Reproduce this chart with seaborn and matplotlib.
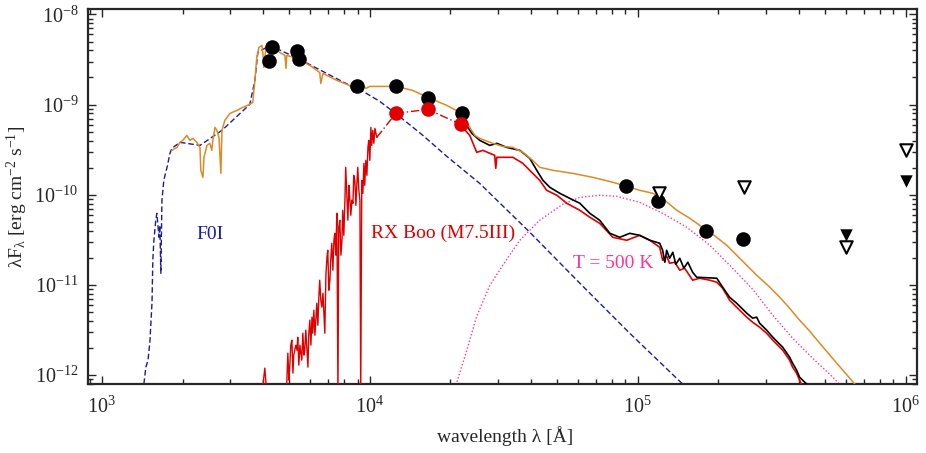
import numpy as np
import pandas as pd
import matplotlib
matplotlib.use("Agg")
import matplotlib.pyplot as plt
from matplotlib.ticker import LogLocator, NullFormatter, FixedLocator
import seaborn as sns

# values as log10(wavelength / A) and log10(lambda F_lambda / erg cm^-2 s^-1)

# F0I model (blue dashed)
f0i_logwl = [3.153, 3.164, 3.172, 3.179, 3.187, 3.190, 3.194, 3.201, 3.205, 3.213, 3.216, 3.220,
             3.224, 3.231, 3.243, 3.254, 3.261, 3.291, 3.366, 3.448, 3.552, 3.571, 3.582, 3.627,
             3.739, 3.925, 3.951, 3.981, 4.037, 4.101, 4.198, 4.287, 4.410, 4.597, 4.784, 4.970,
             5.168, 5.213]
f0i_logflux = [-12.188, -11.911, -11.834, -11.634, -11.191, -10.726, -10.504, -10.282, -10.205,
               -10.471, -10.338, -10.870, -10.061, -9.839, -9.695, -9.540, -9.485, -9.418, -9.452,
               -9.285, -8.997, -8.731, -8.421, -8.343, -8.499, -8.787, -8.820, -8.864, -8.964,
               -9.108, -9.341, -9.573, -9.873, -10.415, -10.981, -11.535, -12.100, -12.221]

# combined model (orange)
total_logwl = [3.261, 3.280, 3.291, 3.302, 3.317, 3.328, 3.340, 3.354, 3.366, 3.369, 3.377, 3.381,
               3.392, 3.403, 3.410, 3.414, 3.422, 3.429, 3.437, 3.444, 3.448, 3.459, 3.478, 3.504,
               3.526, 3.552, 3.563, 3.571, 3.578, 3.586, 3.597, 3.601, 3.604, 3.612, 3.627, 3.638,
               3.653, 3.664, 3.683, 3.687, 3.690, 3.728, 3.776, 3.813, 3.817, 3.825, 3.877, 3.925,
               3.940, 3.951, 3.963, 3.974, 3.985, 4.000, 4.037, 4.097, 4.160, 4.216, 4.287, 4.343,
               4.373, 4.392, 4.410, 4.429, 4.459, 4.496, 4.534, 4.571, 4.608, 4.634, 4.683, 4.757,
               4.832, 4.907, 4.959, 5.007, 5.056, 5.101, 5.146, 5.194, 5.231, 5.280, 5.332, 5.388,
               5.444, 5.493, 5.530, 5.567, 5.604, 5.642, 5.679, 5.746, 5.817]
total_logflux = [-9.507, -9.474, -9.418, -9.396, -9.341, -9.396, -9.374, -9.418, -9.474, -9.728,
                 -9.806, -9.584, -9.452, -9.429, -9.507, -9.396, -9.252, -9.285, -9.363, -9.762,
                 -9.285, -9.174, -9.097, -9.064, -9.030, -8.997, -8.975, -8.731, -8.476, -8.366,
                 -8.343, -8.432, -8.587, -8.377, -8.343, -8.366, -8.399, -8.421, -8.454, -8.598,
                 -8.454, -8.488, -8.565, -8.643, -8.765, -8.654, -8.731, -8.787, -8.864, -8.776,
                 -8.842, -8.787, -8.820, -8.798, -8.798, -8.798, -8.842, -8.920, -9.008, -9.097,
                 -9.252, -9.341, -9.374, -9.396, -9.429, -9.463, -9.474, -9.529, -9.618, -9.695,
                 -9.728, -9.762, -9.806, -9.861, -9.906, -9.950, -9.983, -10.061, -10.172, -10.260,
                 -10.338, -10.438, -10.559, -10.726, -10.892, -11.025, -11.136, -11.258, -11.390,
                 -11.512, -11.645, -11.878, -12.122]

# RX Boo optical spectrum (red, noisy)
rxboo_opt_logwl = [3.597, 3.608, 3.616, 3.687, 3.690, 3.694, 3.698, 3.701, 3.705, 3.709, 3.713,
                   3.716, 3.724, 3.728, 3.731, 3.735, 3.739, 3.746, 3.750, 3.754, 3.757, 3.761,
                   3.769, 3.772, 3.776, 3.780, 3.784, 3.787, 3.791, 3.795, 3.802, 3.806, 3.810,
                   3.813, 3.817, 3.821, 3.825, 3.828, 3.832, 3.836, 3.840, 3.843, 3.847, 3.851,
                   3.854, 3.858, 3.862, 3.866, 3.869, 3.873, 3.877, 3.881, 3.884, 3.888, 3.892,
                   3.896, 3.899, 3.903, 3.907, 3.910, 3.914, 3.918, 3.922, 3.925, 3.929, 3.933,
                   3.937, 3.940, 3.944, 3.948, 3.951, 3.955, 3.959, 3.963, 3.966, 3.970, 3.974,
                   3.978, 3.981, 3.985, 3.989, 3.993, 3.996, 4.000, 4.004, 4.007, 4.011, 4.015,
                   4.019, 4.026]
rxboo_opt_logflux = [-12.221, -11.922, -12.221, -12.221, -12.089, -11.756, -12.055, -11.911,
                     -11.667, -11.612, -11.978, -11.778, -11.667, -11.723, -11.579, -11.889,
                     -11.667, -11.834, -11.535, -11.778, -11.723, -11.501, -11.911, -11.557,
                     -11.390, -11.667, -11.357, -11.535, -11.280, -11.557, -11.202, -11.446,
                     -11.113, -10.947, -11.169, -11.246, -11.091, -11.280, -11.535, -10.892,
                     -10.692, -10.615, -11.058, -10.947, -10.726, -10.537, -10.836, -10.504,
                     -10.427, -10.670, -10.205, -12.221, -10.360, -10.282, -10.670, -10.504,
                     -10.172, -10.449, -10.061, -9.695, -9.983, -10.282, -9.895, -10.028,
                     -10.227, -10.061, -10.094, -9.784, -9.839, -10.116, -9.917, -9.695, -9.950,
                     -10.061, -12.221, -9.839, -9.983, -9.651, -9.895, -9.618, -9.784, -9.474,
                     -9.396, -9.618, -9.252, -9.452, -9.285, -9.429, -9.263, -9.363]

# link from the optical spectrum through the JHK points (red dash-dot)
rxboo_link_logwl = [4.026, 4.097, 4.216, 4.340]
rxboo_link_logflux = [-9.363, -9.097, -9.053, -9.219]

# RX Boo infrared spectrum (red)
rxboo_ir_logwl = [4.340, 4.373, 4.399, 4.422, 4.448, 4.466, 4.470, 4.474, 4.511, 4.534, 4.571,
                  4.608, 4.634, 4.660, 4.698, 4.735, 4.784, 4.821, 4.858, 4.907, 4.959, 5.007,
                  5.045, 5.082, 5.093, 5.108, 5.119, 5.138, 5.157, 5.175, 5.205, 5.231, 5.269,
                  5.295, 5.317, 5.343, 5.369, 5.407, 5.429, 5.455, 5.481, 5.504, 5.541, 5.567,
                  5.578, 5.593, 5.604, 5.623]
rxboo_ir_logflux = [-9.230, -9.341, -9.529, -9.507, -9.540, -9.562, -9.706, -9.584, -9.584, -9.584,
                    -9.651, -9.762, -9.839, -9.950, -10.005, -10.094, -10.172, -10.249, -10.316,
                    -10.471, -10.504, -10.449, -10.504, -10.582, -10.726, -10.681, -10.759, -10.748,
                    -10.836, -10.814, -10.947, -10.925, -10.947, -10.969, -11.036, -11.169, -11.246,
                    -11.357, -11.413, -11.468, -11.535, -11.612, -11.723, -11.834, -11.911, -11.978,
                    -12.055, -12.188]

# RX Boo ISO spectrum (black)
iso_logwl = [4.354, 4.381, 4.410, 4.448, 4.474, 4.511, 4.560, 4.597, 4.623, 4.646, 4.672, 4.709,
             4.746, 4.784, 4.821, 4.858, 4.896, 4.933, 4.970, 5.007, 5.045, 5.082, 5.093, 5.101,
             5.108, 5.119, 5.131, 5.142, 5.157, 5.172, 5.187, 5.205, 5.220, 5.295, 5.317, 5.343,
             5.369, 5.407, 5.429, 5.444, 5.455, 5.481, 5.504, 5.541, 5.567, 5.578, 5.593, 5.604,
             5.631, 5.649]
iso_logflux = [-9.197, -9.319, -9.396, -9.452, -9.429, -9.474, -9.507, -9.596, -9.728, -9.839,
               -9.917, -9.983, -10.039, -10.094, -10.205, -10.282, -10.427, -10.471, -10.427,
               -10.449, -10.504, -10.537, -10.615, -10.748, -10.615, -10.704, -10.637, -10.770,
               -10.704, -10.814, -10.748, -10.859, -10.914, -10.925, -11.025, -11.136, -11.202,
               -11.313, -11.368, -11.357, -11.424, -11.501, -11.579, -11.690, -11.801, -11.867,
               -11.944, -12.022, -12.100, -12.188]

# 500 K blackbody (pink dotted)
bb_logwl = [4.310, 4.362, 4.399, 4.448, 4.496, 4.560, 4.634, 4.720, 4.784, 4.858, 4.922, 5.007,
            5.093, 5.183, 5.269, 5.354, 5.429, 5.504, 5.578, 5.653, 5.728, 5.780]
bb_logflux = [-12.221, -11.723, -11.346, -11.003, -10.781, -10.504, -10.282, -10.105, -10.028,
              -10.005, -10.017, -10.083, -10.205, -10.360, -10.559, -10.814, -11.047, -11.335,
              -11.590, -11.812, -12.022, -12.188]

# photometry
phot_logwl = [3.634, 3.623, 3.728, 3.735, 3.951, 4.097, 4.216, 4.343, 4.955, 5.075, 5.254, 5.392]
phot_logflux = [-8.366, -8.521, -8.410, -8.499, -8.798, -8.798, -8.931, -9.097, -9.906, -10.072,
                -10.404, -10.493]
phot_red_logwl = [4.097, 4.216, 4.340]
phot_red_logflux = [-9.097, -9.053, -9.219]
ulim_open_logwl = [5.078, 5.396, 5.776, 6.000]
ulim_open_logflux = [-9.983, -9.917, -10.582, -9.507]
ulim_fill_logwl = [5.776, 6.000]
ulim_fill_logflux = [-10.449, -9.850]

# axis ticks
x_major = [1e3, 1e4, 1e5, 1e6]
y_major = [1e-12, 1e-11, 1e-10, 1e-9, 1e-8]


def frame(logwl, logflux):
    return pd.DataFrame({"wl": 10 ** np.array(logwl), "flux": 10 ** np.array(logflux)})


sns.set_style("ticks")
plt.rcParams["font.family"] = ["Liberation Serif", "DejaVu Serif"]
plt.rcParams["mathtext.fontset"] = "custom"
plt.rcParams["mathtext.rm"] = "Liberation Serif"
plt.rcParams["mathtext.it"] = "Liberation Serif:italic"
plt.rcParams["mathtext.default"] = "rm"

fig = plt.figure(figsize=(9.26, 4.53), dpi=100)
ax = fig.add_axes([0.095, 0.152, 0.895, 0.828])
ax.set_xscale("log")
ax.set_yscale("log")

blue = "#1c1c9c"
red = "#e00000"
orange = "#dd8a25"
pink = "#ff3399"

sns.lineplot(data=frame(f0i_logwl, f0i_logflux), x="wl", y="flux", ax=ax, color=blue, lw=1.0,
             linestyle=(0, (4, 2)), sort=False, estimator=None, zorder=2)
sns.lineplot(data=frame(bb_logwl, bb_logflux), x="wl", y="flux", ax=ax, color=pink, lw=1.0,
             linestyle=(0, (1, 1.5)), sort=False, estimator=None, zorder=2)
sns.lineplot(data=frame(rxboo_opt_logwl, rxboo_opt_logflux), x="wl", y="flux", ax=ax, color=red,
             lw=1.0, sort=False, estimator=None, zorder=3)
sns.lineplot(data=frame(rxboo_link_logwl, rxboo_link_logflux), x="wl", y="flux", ax=ax, color=red,
             lw=1.0, linestyle=(0, (6, 2, 1, 2)), sort=False, estimator=None, zorder=3)
sns.lineplot(data=frame(rxboo_ir_logwl, rxboo_ir_logflux), x="wl", y="flux", ax=ax, color=red,
             lw=1.2, sort=False, estimator=None, zorder=3)
sns.lineplot(data=frame(iso_logwl, iso_logflux), x="wl", y="flux", ax=ax, color="black",
             lw=1.2, sort=False, estimator=None, zorder=4)
sns.lineplot(data=frame(total_logwl, total_logflux), x="wl", y="flux", ax=ax, color=orange,
             lw=1.1, sort=False, estimator=None, zorder=5)

sns.scatterplot(data=frame(phot_logwl, phot_logflux), x="wl", y="flux", ax=ax, color="black",
                marker="o", s=110, linewidth=0, zorder=6)
sns.scatterplot(data=frame(phot_red_logwl, phot_red_logflux), x="wl", y="flux", ax=ax, color=red,
                marker="o", s=110, linewidth=0, zorder=6)
sns.scatterplot(data=frame(ulim_open_logwl, ulim_open_logflux), x="wl", y="flux", ax=ax,
                marker="v", s=80, facecolor="white", edgecolor="black", linewidth=1.5, zorder=6)
sns.scatterplot(data=frame(ulim_fill_logwl, ulim_fill_logflux), x="wl", y="flux", ax=ax,
                marker="v", s=80, color="black", linewidth=0, zorder=6)

ax.text(2.53e3, 3.65e-11, "F0I", color=blue, fontsize=14, ha="center", va="center")
ax.text(1.87e4, 3.74e-11, "RX Boo (M7.5III)", color=red, fontsize=14, ha="center", va="center")
ax.text(8.07e4, 1.74e-11, "T = 500 K", color=pink, fontsize=14, ha="center", va="center")

ax.set_xlim(887, 1.1e6)
ax.set_ylim(7.95e-13, 1.148e-8)
ax.xaxis.set_major_locator(FixedLocator(x_major))
ax.yaxis.set_major_locator(FixedLocator(y_major))
ax.xaxis.set_minor_locator(LogLocator(base=10, subs=np.arange(2, 10), numticks=20))
ax.yaxis.set_minor_locator(LogLocator(base=10, subs=np.arange(2, 10), numticks=20))
ax.xaxis.set_minor_formatter(NullFormatter())
ax.yaxis.set_minor_formatter(NullFormatter())

ax.tick_params(which="both", direction="in", top=True, right=True, width=1.0, labelsize=14.5)
ax.tick_params(which="major", length=6)
ax.tick_params(which="minor", length=3.5)
ax.tick_params(axis="x", which="major", pad=9)
ax.tick_params(axis="y", which="major", pad=7)
for side in ax.spines.values():
    side.set_linewidth(1.6)

ax.set_xlabel("wavelength λ [Å]", fontsize=14)
ax.set_ylabel(r"λF$_{λ}$ [erg cm$^{-2}$ s$^{-1}$]", fontsize=14)
ax.xaxis.set_label_coords(0.503, -0.112)
ax.yaxis.set_label_coords(-0.07, 0.5)

fig.savefig("out.png", dpi=100)
